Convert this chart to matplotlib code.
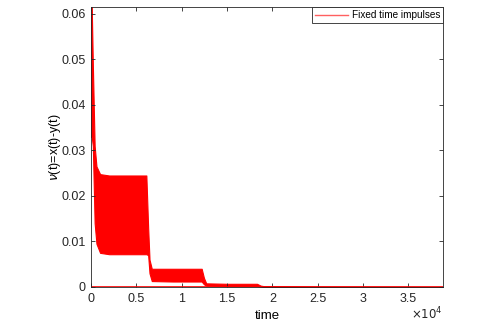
import matplotlib.pyplot as plt

# envelope of the oscillating signal
t_env = [0, 80, 200, 400, 600, 1000, 2000, 4000, 6000, 6100, 6300, 6450, 6700,
         9000, 12200, 12450, 12700, 15000, 18300, 18700, 19000, 25000, 38800]
upper = [0.0615, 0.0615, 0.049, 0.031, 0.0265, 0.0248, 0.0245, 0.0245, 0.0245, 0.0245,
         0.013, 0.006, 0.004, 0.004, 0.004, 0.002, 0.0008, 0.0007, 0.0007, 0.0003,
         0.0002, 0.0001, 0.0]
lower = [0.033, 0.033, 0.031, 0.014, 0.0095, 0.0075, 0.0072, 0.0072, 0.0072, 0.0072,
         0.0070, 0.0030, 0.0013, 0.0012, 0.0012, 0.0006, 0.0003, 0.0002, 0.0002,
         0.0001, 0.0, 0.0, 0.0]
line_t = [0, 38800]
line_v = [0, 0]

xticks = [0, 5000, 10000, 15000, 20000, 25000, 30000, 35000]
xticklabels = ['0', '0.5', '1', '1.5', '2', '2.5', '3', '3.5']
yticks = [0, 0.01, 0.02, 0.03, 0.04, 0.05, 0.06]
yticklabels = ['0', '0.01', '0.02', '0.03', '0.04', '0.05', '0.06']

plt.rcParams['font.family'] = ['Liberation Sans', 'DejaVu Sans']
plt.rcParams['font.size'] = 9

fig = plt.figure(figsize=(4.96, 3.23), dpi=100)
ax = fig.add_axes([0.1835, 0.1115, 0.7095, 0.8665])

ax.fill_between(t_env, lower, upper, color='red', lw=0.8, edgecolor='red')
ax.plot(line_t, line_v, color='red', lw=1.2)
ax.plot([], [], color='#ff6060', lw=1.0, label='Fixed time impulses')

ax.set_xlim(0, 38800)
ax.set_ylim(0, 0.0615)
ax.set_xticks(xticks)
ax.set_xticklabels(xticklabels)
ax.set_yticks(yticks)
ax.set_yticklabels(yticklabels)

ax.tick_params(direction='in', top=True, right=True, length=3, width=0.6,
               colors='#262626', labelcolor='#262626', pad=4)
for s in ax.spines.values():
    s.set_color('#262626')
    s.set_linewidth(0.6)

ax.set_xlabel('time', fontsize=9.5, labelpad=4)
ax.set_ylabel(r'$\nu$(t)=x(t)-y(t)', fontsize=9, labelpad=-1.5)

ax.text(1.0, -0.068, r'$\times10^4$', transform=ax.transAxes, ha='right',
        va='top', fontsize=8.5, color='#262626')

leg = ax.legend(loc='upper right', fontsize=7.2, fancybox=False, framealpha=1,
                edgecolor='#262626', borderpad=0.3, handlelength=3.3,
                handletextpad=0.4, borderaxespad=0.0)
leg.get_frame().set_linewidth(0.6)

fig.savefig('out.png', dpi=100)
